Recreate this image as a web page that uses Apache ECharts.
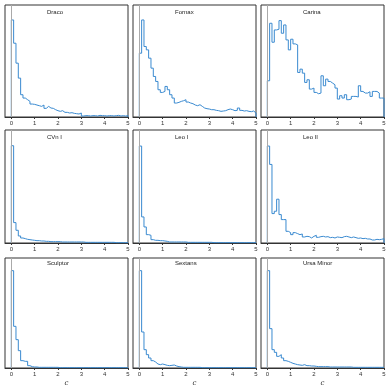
<!DOCTYPE html>
<html>
<head>
<meta charset="utf-8">
<script src="https://cdn.jsdelivr.net/npm/echarts@6/dist/echarts.min.js"></script>
<style>
  html, body { margin: 0; padding: 0; background: #fff; }
  #chart { width: 390px; height: 390px; }
</style>
</head>
<body>
<div id="chart"></div>
<script>
// histogram heights per 0.1 bin, 0 to 5 (arbitrary units)
const galaxies = ['Draco', 'Fornax', 'Carina', 'CVn I', 'Leo I', 'Leo II', 'Sculptor', 'Sextans', 'Ursa Minor'];
const xTicks = [0, 1, 2, 3, 4, 5];
const binWidth = 0.1;

const draco = [292, 222, 162, 117, 67, 57, 52, 47, 39, 38,
               36, 34, 32, 36, 26, 32, 27, 26, 22, 19,
               17, 19, 14, 14, 12, 13, 11, 10, 9, 12,
               3, 4, 4, 3, 4, 4, 3, 5, 4, 4,
               3, 4, 4, 3, 4, 5, 3, 4, 3, 4];
const fornax = [192, 292, 212, 202, 177, 147, 122, 107, 82, 74,
                77, 92, 82, 67, 57, 42, 44, 47, 49, 52,
                45, 42, 40, 36, 34, 37, 32, 27, 25, 24,
                22, 22, 20, 19, 17, 18, 19, 22, 24, 22,
                19, 20, 27, 20, 18, 19, 17, 16, 18, 12];
const carina = [109, 282, 225, 262, 264, 290, 252, 277, 232, 202,
                234, 220, 217, 134, 144, 132, 104, 112, 84, 87,
                74, 70, 72, 124, 94, 114, 107, 102, 97, 87,
                54, 64, 57, 67, 52, 54, 62, 62, 60, 94,
                77, 72, 72, 76, 62, 77, 77, 72, 57, 57];
const cvnI = [291, 61, 38, 21, 15, 13, 11, 10, 9, 8,
              7, 7, 6, 6, 5, 5, 4, 4, 4, 4,
              4, 3, 3, 3, 3, 3, 3, 3, 3, 3,
              3, 2, 2, 2, 2, 2, 2, 2, 2, 2,
              2, 2, 2, 2, 1, 1, 1, 1, 1, 1];
const leoI = [290, 78, 48, 25, 23, 10, 8, 8, 7, 7,
              6, 5, 3, 3, 3, 3, 3, 3, 3, 3,
              2, 2, 2, 2, 2, 2, 2, 2, 2, 2,
              2, 1, 1, 1, 1, 1, 1, 1, 1, 1,
              1, 1, 1, 1, 1, 1, 1, 1, 1, 1];
const leoII = [290, 235, 88, 95, 131, 85, 70, 70, 35, 31,
               25, 31, 28, 25, 27, 18, 20, 19, 15, 20,
               23, 17, 19, 20, 18, 19, 16, 17, 15, 18,
               17, 16, 19, 20, 18, 16, 18, 16, 14, 15,
               13, 14, 12, 12, 9, 9, 11, 10, 11, 13];
const sculptor = [292, 125, 85, 52, 22, 20, 20, 7, 4, 3,
                  3, 2, 2, 2, 2, 2, 2, 2, 2, 2,
                  1, 1, 1, 1, 1, 1, 1, 1, 1, 1,
                  1, 1, 1, 1, 1, 1, 1, 1, 1, 1,
                  1, 1, 1, 1, 1, 1, 1, 1, 1, 1];
const sextans = [292, 108, 55, 40, 30, 22, 18, 12, 10, 12,
                 10, 8, 7, 8, 9, 6, 4, 3, 2, 2,
                 2, 2, 2, 2, 2, 2, 1, 1, 1, 1,
                 1, 1, 1, 1, 1, 1, 1, 1, 1, 1,
                 1, 1, 1, 1, 1, 1, 1, 1, 1, 1];
const ursaMinor = [292, 118, 55, 47, 35, 40, 30, 22, 20, 17,
                   14, 12, 10, 9, 8, 10, 7, 7, 6, 6,
                   5, 4, 4, 4, 4, 4, 3, 3, 3, 3,
                   3, 3, 3, 3, 3, 3, 2, 2, 2, 2,
                   2, 2, 2, 2, 2, 2, 2, 2, 2, 2];

const counts = [draco, fornax, carina, cvnI, leoI, leoII, sculptor, sextans, ursaMinor];

// panel layout
const colLeft = [5, 133, 261];
const colWidth = 123;
const rowTop = [5, 130, 258];
const rowHeight = [112, 113, 110];
const yMax = [337, 338, 330];
const titleTop = [9, 134, 260];

// turn bin heights into a step outline like histtype='step'
function stepPoints(h) {
    const pts = [[0, 0]];
    h.forEach((v, i) => pts.push([+(i * binWidth).toFixed(2), v]));
    const end = +(h.length * binWidth).toFixed(2);
    pts.push([end, h[h.length - 1]]);
    pts.push([end, 0]);
    return pts;
}

const chart = echarts.init(document.getElementById('chart'));

const grid = [], xAxis = [], yAxis = [], series = [], title = [];

galaxies.forEach((name, i) => {
    const row = Math.floor(i / 3);
    const col = i % 3;
    grid.push({
        left: colLeft[col], top: rowTop[row], width: colWidth, height: rowHeight[row],
        show: true, borderColor: '#333', borderWidth: 1, backgroundColor: 'transparent'
    });
    xAxis.push({
        type: 'value', gridIndex: i, min: -0.27, max: 5,
        axisLine: { show: true, lineStyle: { color: '#333', width: 1 } },
        axisTick: { show: true, customValues: xTicks, length: 2, lineStyle: { color: '#333' } },
        axisLabel: { customValues: xTicks, fontSize: 6, margin: 3, color: '#333', fontFamily: 'Liberation Sans' },
        splitLine: { show: false },
        name: row === 2 ? 'c' : '',
        nameLocation: 'middle', nameGap: 12,
        nameTextStyle: { fontSize: 7, fontStyle: 'italic', fontFamily: 'DejaVu Serif', color: '#333' }
    });
    yAxis.push({
        type: 'value', gridIndex: i, min: 0, max: yMax[row],
        axisLine: { show: false }, axisTick: { show: false },
        axisLabel: { show: false }, splitLine: { show: false }
    });
    series.push({
        type: 'line', xAxisIndex: i, yAxisIndex: i, step: 'end',
        symbol: 'none', data: stepPoints(counts[i]),
        lineStyle: { color: '#3a8ad0', width: 1 },
        markLine: {
            silent: true, symbol: 'none', label: { show: false },
            lineStyle: { color: '#aaa', type: 'solid', width: 1 },
            data: [{ xAxis: 0 }]
        }
    });
    title.push({
        text: name, left: colLeft[col] + 42, top: titleTop[row], padding: 0,
        textStyle: { fontSize: 6, fontWeight: 'normal', color: '#222', fontFamily: 'Liberation Sans' }
    });
});

chart.setOption({ animation: false, title, grid, xAxis, yAxis, series });
</script>
</body>
</html>
